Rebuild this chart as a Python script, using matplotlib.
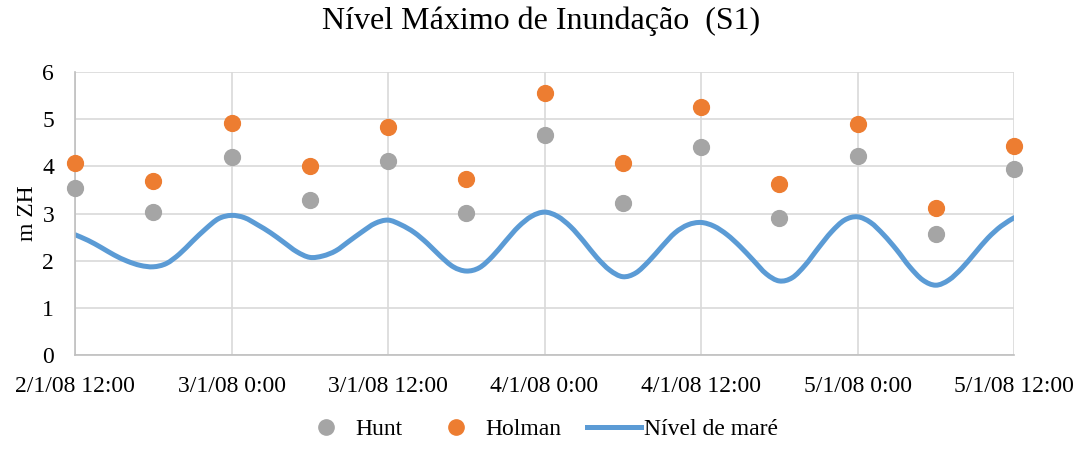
import numpy as np
import pandas as pd
import matplotlib
matplotlib.use('Agg')
import matplotlib.pyplot as plt
import matplotlib.dates as mdates
from matplotlib.path import Path
from matplotlib.patches import PathPatch
from matplotlib.lines import Line2D

# Observation times (every 6 hours) and run-up levels (m ZH)
times = pd.date_range('2008-01-02 12:00', '2008-01-05 12:00', freq='6h')
hunt = [3.54, 3.03, 4.20, 3.29, 4.11, 3.01, 4.66, 3.22, 4.41, 2.90, 4.22, 2.57, 3.94]
holman = [4.07, 3.69, 4.92, 4.01, 4.83, 3.73, 5.55, 4.07, 5.26, 3.63, 4.90, 3.12, 4.43]

# Tide level, hourly
tide_times = pd.date_range('2008-01-02 12:00', '2008-01-05 12:00', freq='1h')
tide = [2.55, 2.43, 2.28, 2.12, 1.99, 1.90, 1.87, 1.94, 2.14, 2.41, 2.67, 2.89,
        2.96, 2.91, 2.76, 2.59, 2.39, 2.19, 2.07, 2.10, 2.21, 2.41, 2.61, 2.79,
        2.86, 2.76, 2.60, 2.37, 2.10, 1.87, 1.78, 1.85, 2.09, 2.41, 2.72, 2.94,
        3.03, 2.94, 2.72, 2.41, 2.07, 1.80, 1.66, 1.74, 1.99, 2.30, 2.59, 2.76,
        2.81, 2.73, 2.55, 2.30, 2.01, 1.72, 1.57, 1.64, 1.91, 2.27, 2.61, 2.86,
        2.93, 2.81, 2.55, 2.23, 1.87, 1.59, 1.48, 1.59, 1.84, 2.16, 2.48, 2.73,
        2.91]

tick_times = pd.date_range('2008-01-02 12:00', '2008-01-05 12:00', freq='12h')
tick_labels = ['2/1/08 12:00', '3/1/08 0:00', '3/1/08 12:00', '4/1/08 0:00',
               '4/1/08 12:00', '5/1/08 0:00', '5/1/08 12:00']

plt.rcParams['font.family'] = ['Liberation Serif', 'DejaVu Serif']

fig = plt.figure(figsize=(10.83, 4.5), dpi=100)
ax = fig.add_axes([0.0693, 0.2111, 0.867, 0.6289])

ax.scatter(times, hunt, s=130, color='#A5A5A5', zorder=3, clip_on=False)
ax.scatter(times, holman, s=130, color='#ED7D31', zorder=3, clip_on=False)

# smoothed line like Excel: Bezier segments through the hourly points
px = mdates.date2num(tide_times.to_pydatetime())
py = np.array(tide)
pts = np.column_stack([px, py])
ext = np.vstack([pts[0], pts, pts[-1]])
verts = [pts[0]]
codes = [Path.MOVETO]
for i in range(len(pts) - 1):
    p0, p1, p2, p3 = ext[i], ext[i + 1], ext[i + 2], ext[i + 3]
    verts += [p1 + (p2 - p0) / 6, p2 - (p3 - p1) / 6, p2]
    codes += [Path.CURVE4] * 3
tide_color = '#5B9BD5'
ax.add_patch(PathPatch(Path(verts, codes), facecolor='none', edgecolor=tide_color,
                       linewidth=3.6, capstyle='round', joinstyle='round', zorder=2))

ax.set_xlim(tick_times[0], tick_times[-1])
ax.set_ylim(0, 6)
ax.set_xticks(tick_times)
ax.set_xticklabels(tick_labels)
ax.set_yticks(range(0, 7))
ax.tick_params(axis='both', length=0, labelsize=17)
ax.tick_params(axis='x', pad=15)
ax.tick_params(axis='y', pad=15)

ax.grid(True, color='#D9D9D9', linewidth=1.2)
ax.set_axisbelow(True)
for side in ['top', 'right']:
    ax.spines[side].set_visible(False)
for side in ['left', 'bottom']:
    ax.spines[side].set_color('#BFBFBF')
    ax.spines[side].set_linewidth(1.2)

ax.set_ylabel('m ZH', fontsize=17, labelpad=3)
fig.suptitle('Nível Máximo de Inundação  (S1)', fontsize=23, y=0.985)

handles = [
    Line2D([], [], linestyle='none', marker='o', markersize=11, color='#A5A5A5'),
    Line2D([], [], linestyle='none', marker='o', markersize=11, color='#ED7D31'),
    Line2D([], [], color=tide_color, linewidth=3.6),
]
fig.legend(handles, ['Hunt', 'Holman', 'Nível de maré'], loc='lower center', ncol=3,
           frameon=False, fontsize=17, bbox_to_anchor=(0.497, -0.025),
           handlelength=2.3, handletextpad=0.1, columnspacing=1.1)

fig.savefig('out.png', dpi=100)
